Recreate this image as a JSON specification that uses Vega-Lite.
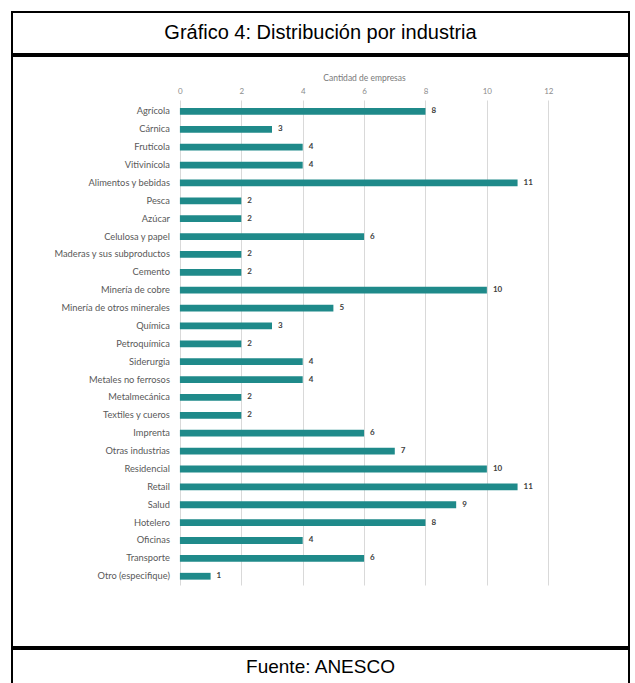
{
  "$schema": "https://vega.github.io/schema/vega-lite/v6.json",
  "padding": {"left": 11, "top": 11, "right": 0, "bottom": 0},
  "spacing": 0,
  "background": "white",
  "config": {"view": {"stroke": "#000000", "strokeWidth": 2}, "font": "Liberation Sans", "concat": {"spacing": 0}},
  "datasets": {
    "empresas": [
      {"industria": "Agrícola", "valor": 8},
      {"industria": "Cárnica", "valor": 3},
      {"industria": "Frutícola", "valor": 4},
      {"industria": "Vitivinícola", "valor": 4},
      {"industria": "Alimentos y bebidas", "valor": 11},
      {"industria": "Pesca", "valor": 2},
      {"industria": "Azúcar", "valor": 2},
      {"industria": "Celulosa y papel", "valor": 6},
      {"industria": "Maderas y sus subproductos", "valor": 2},
      {"industria": "Cemento", "valor": 2},
      {"industria": "Minería de cobre", "valor": 10},
      {"industria": "Minería de otros minerales", "valor": 5},
      {"industria": "Química", "valor": 3},
      {"industria": "Petroquímica", "valor": 2},
      {"industria": "Siderurgia", "valor": 4},
      {"industria": "Metales no ferrosos", "valor": 4},
      {"industria": "Metalmecánica", "valor": 2},
      {"industria": "Textiles y cueros", "valor": 2},
      {"industria": "Imprenta", "valor": 6},
      {"industria": "Otras industrias", "valor": 7},
      {"industria": "Residencial", "valor": 10},
      {"industria": "Retail", "valor": 11},
      {"industria": "Salud", "valor": 9},
      {"industria": "Hotelero", "valor": 8},
      {"industria": "Oficinas", "valor": 4},
      {"industria": "Transporte", "valor": 6},
      {"industria": "Otro (especifique)", "valor": 1}
    ]
  },
  "vconcat": [
    {
      "width": 617,
      "height": 42,
      "view": {"stroke": "#000000", "strokeWidth": 2},
      "data": {"values": [{"t": "Gráfico 4: Distribución por industria"}]},
      "mark": {"type": "text", "fontSize": 20, "font": "Liberation Sans", "color": "#000000"},
      "encoding": {
        "x": {"datum": 0.5, "type": "quantitative", "scale": {"domain": [0, 1]}, "axis": null},
        "y": {"datum": 0.5, "type": "quantitative", "scale": {"domain": [0, 1]}, "axis": null},
        "text": {"field": "t"}
      }
    },
    {
      "width": 617,
      "height": 591,
      "data": {"name": "empresas"},
      "encoding": {
        "y": {
          "field": "industria",
          "type": "nominal",
          "sort": null,
          "axis": null,
          "scale": {"range": [44, 529], "paddingInner": 0.62, "paddingOuter": 0.375, "align": 0.6}
        }
      },
      "layer": [
        {
          "mark": {"type": "bar", "color": "#1f8a8a"},
          "encoding": {
            "x": {
              "field": "valor",
              "type": "quantitative",
              "scale": {"domain": [-5.47, 14.63], "nice": false, "zero": false},
              "axis": {
                "orient": "top",
                "values": [0, 2, 4, 6, 8, 10, 12],
                "grid": true,
                "gridColor": "#d9d9d9",
                "gridWidth": 1,
                "domain": false,
                "ticks": false,
                "tickSize": 0,
                "labelPadding": 0,
                "offset": -39,
                "labelFont": "Lato",
                "labelFontSize": 8,
                "labelColor": "#8c8c8c",
                "title": "Cantidad de empresas",
                "titleFont": "Lato",
                "titleFontSize": 8.5,
                "titleFontWeight": "normal",
                "titleColor": "#7a7a7a",
                "titlePadding": 5,
                "titleX": 352
              }
            },
            "x2": {"datum": 0}
          }
        },
        {
          "mark": {"type": "text", "align": "right", "baseline": "middle", "dx": -10, "fontSize": 9.3, "font": "Lato", "color": "#595959"},
          "encoding": {
            "x": {"datum": 0},
            "text": {"field": "industria"}
          }
        },
        {
          "mark": {"type": "text", "align": "left", "baseline": "middle", "dx": 6, "fontSize": 8, "font": "Lato", "fontWeight": "bold", "color": "#404040"},
          "encoding": {
            "x": {"field": "valor", "type": "quantitative"},
            "text": {"field": "valor", "type": "quantitative"}
          }
        }
      ]
    },
    {
      "width": 617,
      "height": 36,
      "view": {"stroke": "#000000", "strokeWidth": 2},
      "data": {"values": [{"t": "Fuente: ANESCO"}]},
      "mark": {"type": "text", "fontSize": 19, "font": "Liberation Sans", "color": "#000000"},
      "encoding": {
        "x": {"datum": 0.5, "type": "quantitative", "scale": {"domain": [0, 1]}, "axis": null},
        "y": {"datum": 0.5, "type": "quantitative", "scale": {"domain": [0, 1]}, "axis": null},
        "text": {"field": "t"}
      }
    }
  ]
}
